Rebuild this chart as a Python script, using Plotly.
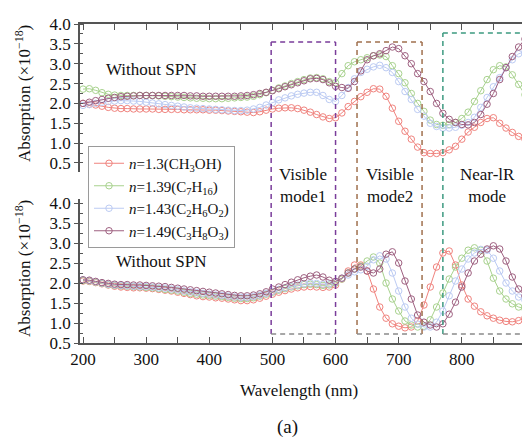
import plotly.graph_objects as go

# ---------------- data ----------------
wavelength = list(range(200, 930, 10))

series_names = [
    "<i>n</i>=1.3(CH<sub>3</sub>OH)",
    "<i>n</i>=1.39(C<sub>7</sub>H<sub>16</sub>)",
    "<i>n</i>=1.43(C<sub>2</sub>H<sub>6</sub>O<sub>2</sub>)",
    "<i>n</i>=1.49(C<sub>3</sub>H<sub>8</sub>O<sub>3</sub>)",
]

# top panel
top_red = [2.00, 1.98, 1.96, 1.93, 1.90, 1.88, 1.87, 1.87, 1.86, 1.86, 1.86, 1.86, 1.85, 1.85, 1.85, 1.85,
           1.84, 1.84, 1.84, 1.84, 1.83, 1.83, 1.82, 1.81, 1.80, 1.79, 1.78, 1.77, 1.79, 1.83, 1.86, 1.88,
           1.89, 1.89, 1.87, 1.83, 1.78, 1.72, 1.66, 1.62, 1.64, 1.76, 1.92, 2.05, 2.17, 2.28, 2.37, 2.36,
           2.18, 1.88, 1.55, 1.30, 1.10, 0.90, 0.76, 0.74, 0.74, 0.76, 0.83, 0.92, 1.10, 1.28, 1.40, 1.52,
           1.62, 1.64, 1.50, 1.38, 1.27, 1.17, 1.10, 1.05, 1.02]
top_green = [2.36, 2.37, 2.33, 2.27, 2.23, 2.21, 2.20, 2.20, 2.20, 2.20, 2.20, 2.20, 2.19, 2.18, 2.17, 2.16,
             2.15, 2.14, 2.13, 2.13, 2.12, 2.12, 2.12, 2.13, 2.14, 2.15, 2.16, 2.18, 2.22, 2.27, 2.33, 2.39,
             2.44, 2.50, 2.55, 2.60, 2.64, 2.65, 2.62, 2.55, 2.52, 2.75, 2.95, 3.05, 3.10, 3.15, 3.20, 3.22,
             3.18, 2.95, 2.75, 2.52, 2.25, 2.00, 1.80, 1.58, 1.47, 1.45, 1.47, 1.52, 1.62, 1.78, 2.05, 2.32,
             2.60, 2.85, 2.95, 2.92, 2.72, 2.48, 2.22, 2.05, 1.95]
top_blue = [1.95, 1.97, 2.00, 2.03, 2.05, 2.06, 2.07, 2.07, 2.06, 2.05, 2.03, 2.01, 1.99, 1.97, 1.95, 1.93,
            1.91, 1.89, 1.88, 1.87, 1.86, 1.85, 1.84, 1.83, 1.82, 1.82, 1.83, 1.86, 1.90, 1.96, 2.02, 2.09,
            2.14, 2.19, 2.23, 2.26, 2.28, 2.28, 2.20, 2.10, 2.05, 2.20, 2.40, 2.62, 2.78, 2.86, 2.92, 2.96,
            2.90, 2.78, 2.55, 2.30, 2.10, 1.85, 1.68, 1.50, 1.42, 1.38, 1.38, 1.40, 1.45, 1.52, 1.65, 1.90,
            2.15, 2.42, 2.65, 2.90, 3.10, 3.25, 3.30, 3.30, 3.28]
top_purple = [2.00, 2.03, 2.07, 2.10, 2.13, 2.15, 2.17, 2.18, 2.19, 2.20, 2.20, 2.20, 2.20, 2.20, 2.20, 2.20,
              2.20, 2.19, 2.19, 2.18, 2.18, 2.18, 2.18, 2.18, 2.18, 2.19, 2.20, 2.22, 2.25, 2.28, 2.32, 2.37,
              2.42, 2.47, 2.52, 2.57, 2.62, 2.63, 2.60, 2.52, 2.43, 2.40, 2.38, 2.55, 2.82, 3.10, 3.20, 3.25,
              3.33, 3.42, 3.38, 3.20, 3.00, 2.75, 2.55, 2.30, 2.00, 1.75, 1.60, 1.52, 1.47, 1.46, 1.52, 1.72,
              1.98, 2.25, 2.60, 2.90, 3.18, 3.42, 3.62, 3.72, 3.78]

# bottom panel
bot_red = [2.05, 2.04, 2.01, 1.98, 1.95, 1.92, 1.90, 1.89, 1.88, 1.88, 1.87, 1.86, 1.84, 1.82, 1.80, 1.77,
           1.74, 1.71, 1.68, 1.66, 1.65, 1.63, 1.62, 1.60, 1.58, 1.56, 1.56, 1.58, 1.62, 1.67, 1.72, 1.77,
           1.81, 1.85, 1.88, 1.90, 1.91, 1.90, 1.89, 1.90, 1.95, 2.10, 2.30, 2.45, 2.45, 2.30, 1.85, 1.40,
           1.12, 0.98, 0.92, 0.88, 0.90, 1.05, 1.45, 1.90, 2.40, 2.75, 2.80, 2.45, 1.95, 1.60, 1.42, 1.28,
           1.18, 1.12, 1.07, 1.04, 1.03, 1.06, 1.13, 1.25, 1.35]
bot_green = [2.06, 2.05, 2.02, 1.99, 1.96, 1.94, 1.93, 1.92, 1.91, 1.90, 1.89, 1.88, 1.86, 1.84, 1.82, 1.80,
             1.77, 1.74, 1.72, 1.70, 1.69, 1.67, 1.66, 1.64, 1.62, 1.61, 1.61, 1.63, 1.67, 1.72, 1.77, 1.82,
             1.86, 1.90, 1.93, 1.96, 1.97, 1.96, 1.94, 1.95, 2.00, 2.10, 2.25, 2.35, 2.42, 2.55, 2.65, 2.50,
             2.00, 1.60, 1.30, 1.05, 0.95, 0.90, 0.92, 1.08, 1.40, 1.75, 2.10, 2.40, 2.62, 2.82, 2.88, 2.82,
             2.55, 2.12, 1.80, 1.60, 1.48, 1.40, 1.36, 1.33, 1.33]
bot_blue = [2.08, 2.06, 2.03, 2.00, 1.97, 1.95, 1.94, 1.93, 1.92, 1.91, 1.91, 1.90, 1.88, 1.87, 1.85, 1.83,
            1.80, 1.78, 1.76, 1.74, 1.72, 1.70, 1.69, 1.67, 1.65, 1.64, 1.64, 1.66, 1.69, 1.74, 1.79, 1.84,
            1.88, 1.92, 1.95, 1.98, 2.00, 1.99, 1.97, 1.98, 2.03, 2.12, 2.20, 2.28, 2.33, 2.42, 2.58, 2.68,
            2.60, 2.25, 1.80, 1.40, 1.12, 0.97, 0.90, 0.90, 1.02, 1.30, 1.68, 2.05, 2.35, 2.60, 2.75, 2.84,
            2.82, 2.62, 2.30, 2.00, 1.80, 1.65, 1.57, 1.52, 1.50]
bot_purple = [2.08, 2.07, 2.04, 2.01, 1.99, 1.97, 1.96, 1.96, 1.95, 1.95, 1.94, 1.93, 1.92, 1.91, 1.89, 1.87,
              1.85, 1.83, 1.81, 1.79, 1.77, 1.75, 1.73, 1.71, 1.69, 1.68, 1.68, 1.70, 1.73, 1.78, 1.85, 1.90,
              1.96, 2.02, 2.08, 2.13, 2.17, 2.20, 2.15, 2.07, 2.04, 2.12, 2.25, 2.35, 2.40, 2.30, 2.25, 2.35,
              2.72, 2.78, 2.50, 2.05, 1.60, 1.20, 1.02, 0.95, 0.90, 0.98, 1.22, 1.52, 1.90, 2.25, 2.55, 2.72,
              2.85, 2.93, 2.85, 2.55, 2.15, 1.85, 1.68, 1.55, 1.48]

colors = ["#f0837e", "#a8d28e", "#bccbf3", "#9e6080"]

# mode boxes
box_x0 = [498, 634, 770]
box_x1 = [600, 737, 925]
box_labels = ["Visible<br>mode1", "Visible<br>mode2", "Near-lR<br>mode"]
box_label_x = [549, 687, 840]

FONT = "Liberation Serif, Times New Roman, Times, serif"

fig = go.Figure()

top_sets = [top_red, top_green, top_blue, top_purple]
bot_sets = [bot_red, bot_green, bot_blue, bot_purple]

def marker(c):
    return dict(symbol="circle-open", size=6.5, color=c, line=dict(width=1, color=c))

for i in range(4):
    fig.add_trace(go.Scatter(
        x=wavelength, y=top_sets[i], mode="lines+markers", name=series_names[i],
        legendgroup=str(i), showlegend=True, xaxis="x2", yaxis="y2",
        line=dict(color=colors[i], width=1), marker=marker(colors[i]),
    ))
for i in range(4):
    fig.add_trace(go.Scatter(
        x=wavelength, y=bot_sets[i], mode="lines+markers", name=series_names[i],
        legendgroup=str(i), showlegend=False, xaxis="x", yaxis="y",
        line=dict(color=colors[i], width=1), marker=marker(colors[i]),
    ))

# The page body has an 8 px margin, so the figure is drawn 8 px right/down of the window origin.
OFF = 8
W, H = 530 - OFF, 440 - OFF
L = 80 - OFF

def py(p):          # window pixel y -> paper y
    return 1 - (p - OFF) / H

def px(p):          # window pixel x -> paper x
    return (p - 80) / (W - L)

box_colors = ["#7a3d9a", "#a0704e", "#3d9a80"]
box_tops = [py(42), py(42), py(33)]
box_bottom = py(334)
shapes = []
dash = "5px,4px"
for i in range(3):
    c = box_colors[i]
    x0, x1, t = box_x0[i], box_x1[i], box_tops[i]
    for (a0, a1, b0, b1, col) in [(x0, x0, box_bottom, t, c), (x1, x1, box_bottom, t, c),
                                  (x0, x1, t, t, c), (x0, x1, box_bottom, box_bottom, "#8a8a8a")]:
        shapes.append(dict(type="line", xref="x", yref="paper", x0=a0, x1=a1, y0=b0, y1=b1,
                           line=dict(color=col, width=1.5, dash=dash)))

tfont = dict(family=FONT, size=17, color="#111")
annotations = []
for i in range(3):
    annotations.append(dict(x=box_label_x[i], y=py(186), xref="x", yref="paper", text=box_labels[i],
                            showarrow=False, font=tfont, xanchor="center", yanchor="middle"))

ytitle = "Absorption (×10<sup>−18</sup>)"
annotations += [
    dict(x=px(151), y=py(70), text="Without SPN"),
    dict(x=px(161), y=py(262), text="Without SPN"),
    dict(x=px(23), y=py(93), text=ytitle, textangle=-90),
    dict(x=px(23), y=py(268), text=ytitle, textangle=-90),
    dict(x=px(299), y=py(390), text="Wavelength (nm)"),
    dict(x=px(287), y=py(427), text="(a)", font=dict(family=FONT, size=19, color="#111")),
]
for a in annotations[3:]:
    a.setdefault("font", tfont)
    a.update(xref="paper", yref="paper", showarrow=False, xanchor="center", yanchor="middle")

axis_line = "#555555"
tickfont = dict(family=FONT, size=17, color="#111")
xr = [195.2, 908]

common_x = dict(range=xr, showgrid=False, zeroline=False, showline=True, linecolor=axis_line, linewidth=1.5,
                ticks="inside", ticklen=6, tickcolor=axis_line, tick0=0, dtick=100,
                minor=dict(dtick=50, ticks="inside", ticklen=6, tickcolor=axis_line),
                tickfont=tickfont, automargin=False)
common_y = dict(showgrid=False, zeroline=False, showline=True, linecolor=axis_line, linewidth=1.5,
                ticks="outside", ticklen=4, tickcolor=axis_line, tick0=0.5, dtick=0.5, tickformat=".1f",
                minor=dict(dtick=0.25, ticks="inside", ticklen=3, tickcolor=axis_line),
                tickfont=tickfont, automargin=False)

fig.update_layout(
    width=W, height=H,
    margin=dict(l=L, r=0, t=0, b=0, autoexpand=False),
    paper_bgcolor="white", plot_bgcolor="white",
    font=dict(family=FONT, size=17, color="#111"),
    xaxis=dict(**common_x, anchor="y", domain=[0, 1]),
    xaxis2=dict(**common_x, anchor="y2", side="top", showticklabels=False, matches="x"),
    yaxis=dict(**common_y, anchor="x", domain=[py(343), py(199)], range=[0.5, 4.1]),
    yaxis2=dict(**common_y, anchor="x2", domain=[py(172), py(24)], range=[0.273, 4.0]),
    shapes=shapes,
    annotations=annotations,
    legend=dict(x=px(88), y=py(146), xanchor="left", yanchor="top",
                bgcolor="white", bordercolor="#9a9a9a", borderwidth=1,
                font=dict(family=FONT, size=15, color="#111"), tracegroupgap=0, itemwidth=30),
)

fig.write_html("out.html")
